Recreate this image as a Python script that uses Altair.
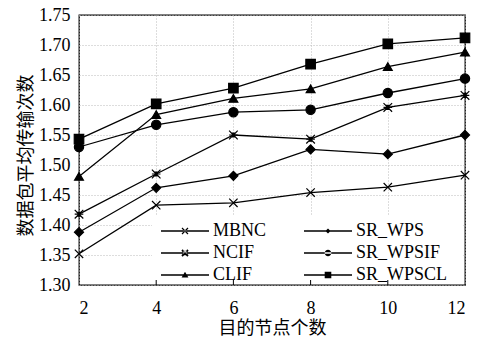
import altair as alt
import pandas as pd

nodes = [2, 4, 6, 8, 10, 12]
series_names = ["MBNC", "NCIF", "CLIF", "SR_WPS", "SR_WPSIF", "SR_WPSCL"]
mbnc = [1.352, 1.433, 1.437, 1.454, 1.463, 1.483]
ncif = [1.418, 1.485, 1.550, 1.543, 1.596, 1.616]
clif = [1.481, 1.584, 1.611, 1.627, 1.664, 1.688]
sr_wps = [1.388, 1.462, 1.482, 1.526, 1.518, 1.550]
sr_wpsif = [1.530, 1.567, 1.588, 1.592, 1.620, 1.644]
sr_wpscl = [1.543, 1.602, 1.628, 1.668, 1.702, 1.712]
y_ticks = [1.30, 1.35, 1.40, 1.45, 1.50, 1.55, 1.60, 1.65, 1.70, 1.75]

values = [mbnc, ncif, clif, sr_wps, sr_wpsif, sr_wpscl]
rows = []
for name, vals in zip(series_names, values):
    for n, v in zip(nodes, vals):
        rows.append({"x": n, "y": v, "series": name})
df = pd.DataFrame(rows)
tick_df = pd.DataFrame({"x": nodes[1:-1]})

# marker shapes on the plot
plot_shapes = [
    "M-1,-1L1,1M-1,1L1,-1",
    "M-1,-1L1,1M-1,1L1,-1M-1,0L1,0M-0.45,-0.45L0.45,-0.45L-0.45,0.45L0.45,0.45Z",
    "triangle-up",
    "diamond",
    "circle",
    "square",
]
plot_sizes = [70, 90, 75, 45, 90, 85]

# ---- legend symbols built from filled geometry (pixel units -> symbol units)
U = 5.0          # half of nominal symbol width (symbol size 100 -> 10 px)
LINE_LEN = 48.0
MC = LINE_LEN / 2


def pt(xp, yp):
    return f"{(xp - U) / U:.3f},{yp / U:.3f}"


def poly(points):
    return "M" + "L".join(pt(x, y) for x, y in points) + "Z"


def bar(x1, y1, x2, y2, hw):
    dx, dy = x2 - x1, y2 - y1
    ln = (dx * dx + dy * dy) ** 0.5
    nx, ny = -dy / ln * hw, dx / ln * hw
    return poly([(x1 + nx, y1 + ny), (x2 + nx, y2 + ny), (x2 - nx, y2 - ny), (x1 - nx, y1 - ny)])


line_seg = poly([(0, -0.65), (LINE_LEN, -0.65), (LINE_LEN, 0.65), (0, 0.65)])
r = 3.0
sym_mbnc = line_seg + bar(MC - r, -r, MC + r, r, 0.6) + bar(MC - r, r, MC + r, -r, 0.6)
sym_ncif = (line_seg + bar(MC - r, -r, MC + r, r, 0.9) + bar(MC - r, r, MC + r, -r, 0.9)
            + poly([(MC - 2, -2.2), (MC + 2, -2.2), (MC, 0)]) + poly([(MC - 2, 2.2), (MC + 2, 2.2), (MC, 0)]))
sym_clif = line_seg + poly([(MC, -3.3), (MC + 3.4, 2.6), (MC - 3.4, 2.6)])
sym_wps = line_seg + poly([(MC, -2.6), (MC + 2.6, 0), (MC, 2.6), (MC - 2.6, 0)])
rc = 3.3 / U
sym_wpsif = (line_seg + f"M{pt(MC - 3.3, 0)}A{rc:.3f},{rc:.3f} 0 1,0 {pt(MC + 3.3, 0)}"
             f"A{rc:.3f},{rc:.3f} 0 1,0 {pt(MC - 3.3, 0)}Z")
sym_wpscl = line_seg + poly([(MC - 3.3, -3.3), (MC + 3.3, -3.3), (MC + 3.3, 3.3), (MC - 3.3, 3.3)])
legend_paths = [sym_mbnc, sym_ncif, sym_clif, sym_wps, sym_wpsif, sym_wpscl]

PLOT_W, PLOT_H = 386, 270

xs = alt.Scale(domain=[2, 12], nice=False, zero=False)
ys = alt.Scale(domain=[1.30, 1.75], nice=False, zero=False)

x_enc = alt.X("x:Q", scale=xs, axis=alt.Axis(
    values=nodes, title="目的节点个数", labelPadding=14, titlePadding=2,
    grid=True, tickSize=0, domain=False))
y_enc = alt.Y("y:Q", scale=ys, axis=alt.Axis(
    values=y_ticks, format=".2f", title="数据包平均传输次数",
    labelPadding=9, titlePadding=3, titleY=140, grid=True, tickSize=0, domain=False))

base = alt.Chart(df)

# white box behind the legend that hides the grid there
legend_bg = alt.Chart(tick_df).mark_rect(color="white").encode(
    x=alt.value(73), x2=alt.value(383), y=alt.value(200), y2=alt.value(PLOT_H - 1),
)

lines = base.mark_line(color="black", strokeWidth=1.3).encode(
    x=x_enc, y=y_enc, detail="series:N",
)

points = base.mark_point(filled=True, color="black", stroke="black",
                         strokeWidth=1.2, opacity=1).encode(
    x=x_enc, y=y_enc,
    shape=alt.Shape("series:N", scale=alt.Scale(domain=series_names, range=plot_shapes), legend=None),
    size=alt.Size("series:N", scale=alt.Scale(domain=series_names, range=plot_sizes), legend=None),
)

legend_layer = base.mark_point(filled=True, color="black", opacity=0, size=100).encode(
    x=x_enc, y=y_enc,
    shape=alt.Shape("series:N",
                    scale=alt.Scale(domain=series_names, range=legend_paths),
                    legend=alt.Legend(
                        title=None, orient="none", legendX=76, legendY=205, columns=2,
                        columnPadding=33, rowPadding=4, padding=2,
                        symbolSize=100, symbolOpacity=1,
                        symbolFillColor="black", symbolStrokeWidth=0,
                        labelOffset=38,
                        labelFont="Liberation Serif", labelFontSize=18,
                        labelColor="black", labelLimit=300)),
)

ticks = alt.Chart(tick_df).mark_rule(color="black", strokeWidth=1).encode(
    x=x_enc, y=alt.value(PLOT_H - 5), y2=alt.value(PLOT_H),
)

chart = alt.layer(legend_bg, lines, points, legend_layer, ticks).resolve_scale(
    shape="independent", size="independent"
).properties(
    width=PLOT_W, height=PLOT_H,
    autosize=alt.AutoSizeParams(type="none"),
    padding={"left": 71, "top": 7, "right": 9, "bottom": 52},
).configure_view(
    stroke="black", strokeWidth=1.3
).configure_axis(
    labelFont="Liberation Serif", labelFontSize=18, labelColor="black",
    titleFont="Noto Sans CJK SC", titleFontSize=18, titleFontWeight="normal",
    titleColor="black", gridColor="#bbbbbb", gridDash=[1, 2], gridWidth=1,
)

chart.save("out.html", embed_options={"renderer": "svg", "actions": False})
